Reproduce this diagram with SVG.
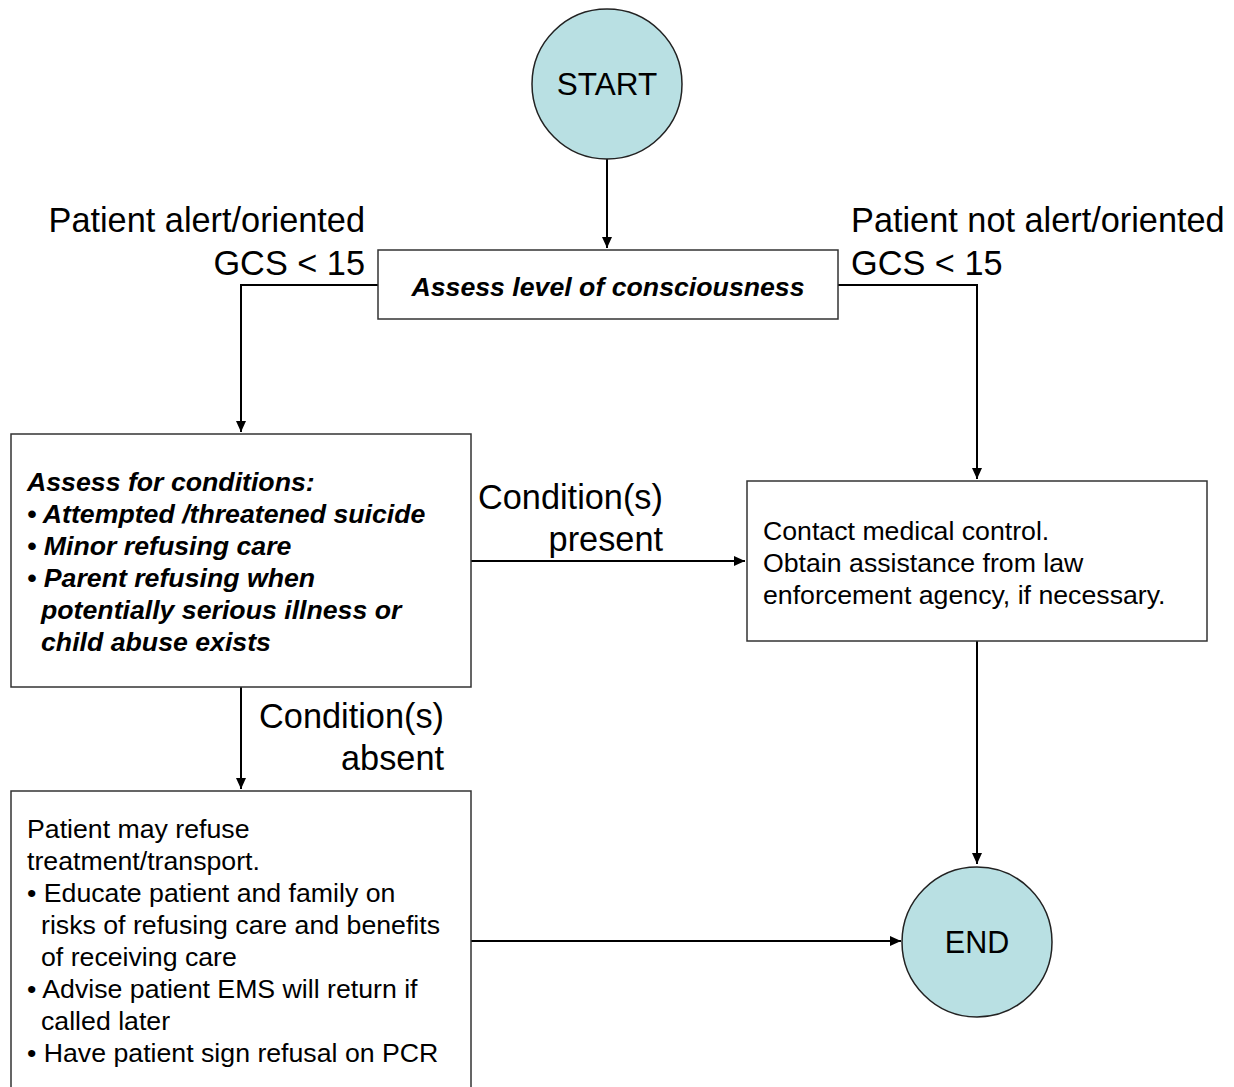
<svg xmlns="http://www.w3.org/2000/svg" width="1234" height="1087" viewBox="0 0 1234 1087">
<defs>
<marker id="arr" markerWidth="12" markerHeight="10" refX="11" refY="5" orient="auto" markerUnits="userSpaceOnUse">
<path d="M0,0 L11,5 L0,10 Z" fill="#000"/>
</marker>
<style>
.t{font-family:"Liberation Sans",Arial,sans-serif;fill:#000}
.lbl{font-size:34.3px}
.bx{font-size:26.7px}
.bi{font-size:26.7px;font-weight:bold;font-style:italic}
.box{fill:#fff;stroke:#333;stroke-width:1.5}
.circ{fill:#B9E0E3;stroke:#222;stroke-width:1.5}
.con{fill:none;stroke:#000;stroke-width:2}
</style>
</defs>
<rect width="1234" height="1087" fill="#fff"/>
<g id="connectors">
<path class="con" d="M607,159 L607,248" marker-end="url(#arr)"/>
<path class="con" d="M378,285 L241,285 L241,432" marker-end="url(#arr)"/>
<path class="con" d="M838,285 L977,285 L977,479" marker-end="url(#arr)"/>
<path class="con" d="M471,561 L745,561" marker-end="url(#arr)"/>
<path class="con" d="M977,641 L977,864" marker-end="url(#arr)"/>
<path class="con" d="M241,687 L241,789" marker-end="url(#arr)"/>
<path class="con" d="M471,941 L901,941" marker-end="url(#arr)"/>
</g>
<g id="labels">
<text class="t lbl" x="365" y="232" text-anchor="end">Patient alert/oriented</text>
<text class="t lbl" x="365" y="275" text-anchor="end">GCS &lt; 15</text>
<text class="t lbl" x="851" y="232">Patient not alert/oriented</text>
<text class="t lbl" x="851" y="275">GCS &lt; 15</text>
<text class="t lbl" x="478" y="509">Condition(s)</text>
<text class="t lbl" x="663" y="551" text-anchor="end">present</text>
<text class="t lbl" x="444" y="728" text-anchor="end">Condition(s)</text>
<text class="t lbl" x="444" y="770" text-anchor="end">absent</text>
</g>
<g id="start">
<circle class="circ" cx="607" cy="84" r="75"/>
<text class="t" x="607" y="95" font-size="31.5" text-anchor="middle">START</text>
</g>
<g id="assess-loc">
<rect class="box" x="378" y="250" width="460" height="69"/>
<text class="t bi" x="608" y="296" text-anchor="middle">Assess level of consciousness</text>
</g>
<g id="assess-conditions">
<rect class="box" x="11" y="434" width="460" height="253"/>
<text class="t bi" x="27" y="491">Assess for conditions:</text>
<text class="t bi" x="27" y="523">• Attempted /threatened suicide</text>
<text class="t bi" x="27" y="555">• Minor refusing care</text>
<text class="t bi" x="27" y="587">• Parent refusing when</text>
<text class="t bi" x="41" y="619">potentially serious illness or</text>
<text class="t bi" x="41" y="651">child abuse exists</text>
</g>
<g id="contact">
<rect class="box" x="747" y="481" width="460" height="160"/>
<text class="t bx" x="763" y="540">Contact medical control.</text>
<text class="t bx" x="763" y="572">Obtain assistance from law</text>
<text class="t bx" x="763" y="604">enforcement agency, if necessary.</text>
</g>
<g id="refuse">
<rect class="box" x="11" y="791" width="460" height="310"/>
<text class="t bx" x="27" y="838">Patient may refuse</text>
<text class="t bx" x="27" y="870">treatment/transport.</text>
<text class="t bx" x="27" y="902">• Educate patient and family on</text>
<text class="t bx" x="41" y="934">risks of refusing care and benefits</text>
<text class="t bx" x="41" y="966">of receiving care</text>
<text class="t bx" x="27" y="998">• Advise patient EMS will return if</text>
<text class="t bx" x="41" y="1030">called later</text>
<text class="t bx" x="27" y="1062">• Have patient sign refusal on PCR</text>
</g>
<g id="end">
<circle class="circ" cx="977" cy="942" r="75"/>
<text class="t" x="977" y="953" font-size="30.5" text-anchor="middle">END</text>
</g>
</svg>
